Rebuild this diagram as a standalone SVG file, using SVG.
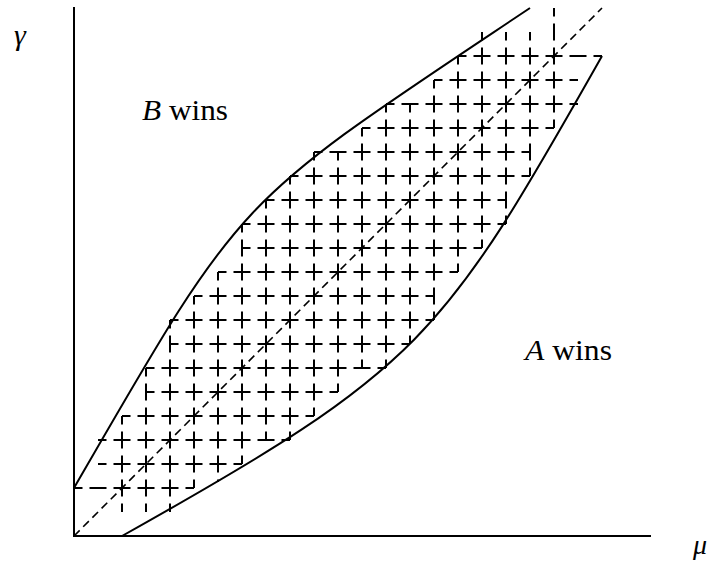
<svg xmlns="http://www.w3.org/2000/svg" width="714" height="561" viewBox="0 0 714 561">
<style>
.ax{stroke:#000;stroke-width:2;fill:none}
.cv{stroke:#000;stroke-width:2;fill:none}
.hg line{stroke:#000;stroke-width:2;stroke-dasharray:17 7;stroke-dashoffset:8.5;fill:none}
.dg{stroke:#000;stroke-width:1.6;stroke-dasharray:8 5;fill:none}
</style>
<rect width="714" height="561" fill="#fff"/>
<g id="hatch" class="hg">
<line x1="74" y1="488" x2="194" y2="488"/>
<line x1="98" y1="464" x2="242" y2="464"/>
<line x1="98" y1="440" x2="290" y2="440"/>
<line x1="122" y1="416" x2="314" y2="416"/>
<line x1="146" y1="392" x2="338" y2="392"/>
<line x1="146" y1="368" x2="386" y2="368"/>
<line x1="170" y1="344" x2="410" y2="344"/>
<line x1="170" y1="320" x2="434" y2="320"/>
<line x1="194" y1="296" x2="434" y2="296"/>
<line x1="218" y1="272" x2="458" y2="272"/>
<line x1="242" y1="248" x2="482" y2="248"/>
<line x1="242" y1="224" x2="506" y2="224"/>
<line x1="266" y1="200" x2="506" y2="200"/>
<line x1="290" y1="176" x2="530" y2="176"/>
<line x1="314" y1="152" x2="530" y2="152"/>
<line x1="362" y1="128" x2="554" y2="128"/>
<line x1="386" y1="104" x2="578" y2="104"/>
<line x1="434" y1="80" x2="578" y2="80"/>
<line x1="458" y1="56" x2="602" y2="56"/>
<line x1="122" y1="416" x2="122" y2="512"/>
<line x1="146" y1="368" x2="146" y2="512"/>
<line x1="170" y1="320" x2="170" y2="512"/>
<line x1="194" y1="296" x2="194" y2="488"/>
<line x1="218" y1="272" x2="218" y2="482"/>
<line x1="242" y1="224" x2="242" y2="464"/>
<line x1="266" y1="200" x2="266" y2="440"/>
<line x1="290" y1="176" x2="290" y2="440"/>
<line x1="314" y1="152" x2="314" y2="416"/>
<line x1="338" y1="152" x2="338" y2="392"/>
<line x1="362" y1="128" x2="362" y2="368"/>
<line x1="386" y1="104" x2="386" y2="368"/>
<line x1="410" y1="104" x2="410" y2="344"/>
<line x1="434" y1="80" x2="434" y2="320"/>
<line x1="458" y1="56" x2="458" y2="272"/>
<line x1="482" y1="32" x2="482" y2="248"/>
<line x1="506" y1="32" x2="506" y2="224"/>
<line x1="530" y1="32" x2="530" y2="176"/>
<line x1="554" y1="8" x2="554" y2="128"/>
</g>
<g id="curves">
<path class="cv" d="M74,488 C247,188.7 232,206.8 530,8"/>
<path class="cv" d="M122,536 C422,368 442,339.2 602,56"/>
<path class="dg" d="M74,536 L602,8"/>
</g>
<g id="axes">
<path class="ax" d="M74,7 L74,536 L651,536"/>
</g>
<g id="labels" font-family="Liberation Serif, Times New Roman, DejaVu Serif, serif" font-size="30" fill="#000">
<text x="14" y="45" font-style="italic">γ</text>
<text x="693" y="554" font-size="28" font-style="italic">μ</text>
<text x="142" y="120" textLength="86" lengthAdjust="spacingAndGlyphs"><tspan font-style="italic">B</tspan> wins</text>
<text x="525" y="360" textLength="87" lengthAdjust="spacingAndGlyphs"><tspan font-style="italic">A</tspan> wins</text>
</g>
</svg>
